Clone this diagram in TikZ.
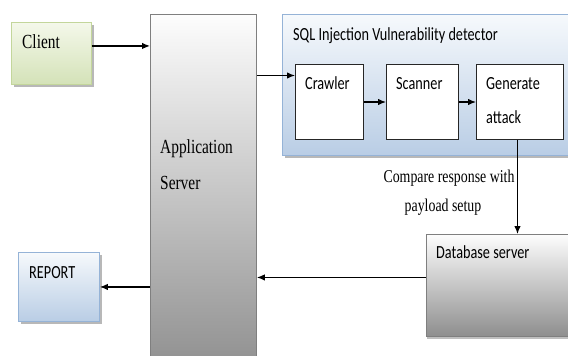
\documentclass[tikz,border=0pt]{standalone}
\usepackage{fontspec}
\setmainfont{Liberation Serif}[FakeStretch=0.77]
\newfontfamily\calfont{Carlito}[FakeStretch=0.77]
\usetikzlibrary{arrows.meta,shadows}

\definecolor{greenTop}{HTML}{F4F8EA}
\definecolor{greenBot}{HTML}{D4E2B8}
\definecolor{greenLine}{HTML}{C3D69B}
\definecolor{blueTop}{HTML}{F6F9FC}
\definecolor{blueBot}{HTML}{B9CDE5}
\definecolor{blueLine}{HTML}{95B3D7}
\definecolor{grayTop}{HTML}{FDFDFD}
\definecolor{grayBot}{HTML}{8E8E8E}
\definecolor{grayLine}{HTML}{7F7F7F}

\tikzset{
  panel/.style={anchor=north west, inner sep=0pt, line width=0.9pt},
  softshadow/.style={drop shadow={shadow xshift=2.5pt, shadow yshift=-3pt,
      fill=black, opacity=0.28}},
  greenbox/.style={panel, draw=greenLine, top color=greenTop, bottom color=greenBot, softshadow},
  bluebox/.style={panel, draw=blueLine, top color=blueTop, bottom color=blueBot, softshadow},
  graybox/.style={panel, draw=grayLine, top color=grayTop, bottom color=grayBot},
  stagebox/.style={panel, draw=black!85, fill=white, line width=1pt},
  serif/.style={anchor=base west, inner sep=0pt, font=\fontsize{20}{24}\selectfont},
  sans/.style={anchor=base west, inner sep=0pt, font=\calfont\fontsize{18.5}{22}\selectfont},
  note/.style={anchor=base, inner sep=0pt, font=\fontsize{18}{22}\selectfont},
  arr/.style={-{Latex[length=8pt,width=6.5pt]}, line width=1.2pt, black}
}

\begin{document}
\begin{tikzpicture}[x=1pt,y=-1pt]
\useasboundingbox (0,0) rectangle (568,356);
\clip (0,0) rectangle (568,356);

% detector panel and its three stages
\node[bluebox, minimum width=300pt, minimum height=141pt] (det) at (282,14) {};
\node[stagebox, minimum width=68pt, minimum height=75pt] (crawler) at (295,64) {};
\node[stagebox, minimum width=72pt, minimum height=75pt] (scanner) at (386,64) {};
\node[stagebox, minimum width=87pt, minimum height=75pt] (gen) at (476,64) {};

% other blocks
\node[greenbox, minimum width=80pt, minimum height=62pt] (client) at (11,22) {};
\node[bluebox, minimum width=81pt, minimum height=69pt] (report) at (18,252) {};
\node[graybox, minimum width=106pt, minimum height=360pt] (app) at (150,14) {};
\node[graybox, minimum width=160pt, minimum height=102pt,
      drop shadow={shadow xshift=1pt, shadow yshift=-2.5pt, fill=black, opacity=0.25}] (db) at (426,234) {};

% labels
\node[serif] (tclient) at (22,48) {Client};
\node[serif] (tapp1) at (160,153) {Application};
\node[serif] (tapp2) at (160,189) {Server};
\node[sans] (tdet) at (293,40) {SQL Injection Vulnerability detector};
\node[sans] (tcrawl) at (305,89) {Crawler};
\node[sans] (tscan) at (396,89) {Scanner};
\node[sans] (tgen1) at (486,89) {Generate};
\node[sans] (tgen2) at (486,123) {attack};
\node[sans] (trep) at (29,278) {REPORT};
\node[sans] (tdb) at (436,258) {Database server};
\node[note] (cmp1) at (449,182) {Compare response with};
\node[note] (cmp2) at (443,211) {payload setup};

% connectors
\coordinate (cin) at ([yshift=7.5pt]client.east);
\draw[arr] (cin) -- (cin -| app.west);
\coordinate (cw) at ([yshift=26.5pt]crawler.west);
\draw[arr] (cw -| app.east) -- (cw);
\draw[arr] (crawler.east) -- (scanner.west);
\draw[arr] (scanner.east) -- (gen.west);
\coordinate (gs) at ([xshift=-2.5pt]gen.south);
\draw[arr] (gs) -- (gs |- db.north);
\coordinate (dw) at ([yshift=8pt]db.west);
\draw[arr] (dw) -- (dw -| app.east);
\draw[arr] (report.east -| app.west) -- (report.east);
\end{tikzpicture}
\end{document}
